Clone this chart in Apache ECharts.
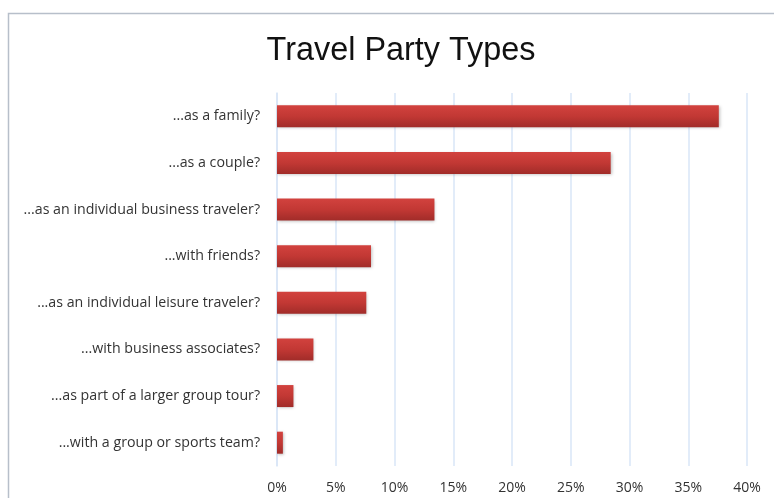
<!DOCTYPE html>
<html>
<head>
<meta charset="utf-8">
<script src="https://cdn.jsdelivr.net/npm/echarts@6/dist/echarts.min.js"></script>
<style>
  html, body { margin: 0; padding: 0; background: #fff; }
  #chart { width: 774px; height: 498px; }
</style>
</head>
<body>
<div id="chart"></div>
<script>
// categories top to bottom, values in percent
const categories = [
  '...as a family?',
  '...as a couple?',
  '...as an individual business traveler?',
  '...with friends?',
  '...as an individual leisure traveler?',
  '...with business associates?',
  '...as part of a larger group tour?',
  '...with a group or sports team?'
];
const shares = [37.6, 28.4, 13.4, 8.0, 7.6, 3.1, 1.4, 0.5];
const xTicks = [0, 5, 10, 15, 20, 25, 30, 35, 40];

const chart = echarts.init(document.getElementById('chart'));
const gridBlue = '#d8e6f7';

chart.setOption({
  animation: false,
  title: {
    text: 'Travel Party Types',
    left: 396,
    textAlign: 'center',
    top: 30,
    textStyle: { fontFamily: 'Liberation Sans', fontSize: 32.4, fontWeight: 'normal', color: '#111' }
  },
  graphic: [{
    type: 'polyline',
    shape: { points: [[8.5, 498], [8.5, 13.5], [774, 13.5]] },
    style: { stroke: '#b7bfca', lineWidth: 1.5, fill: null }
  }],
  grid: { left: 277, right: 27, top: 93, bottom: 32 },
  xAxis: {
    type: 'value',
    min: xTicks[0],
    max: xTicks[xTicks.length - 1],
    interval: 5,
    axisLine: { show: false },
    axisTick: { show: false },
    splitLine: { lineStyle: { color: gridBlue, width: 1.5 } },
    axisLabel: {
      formatter: v => v + '%',
      margin: 15,
      color: '#333',
      fontFamily: 'Open Sans',
      fontSize: 14
    }
  },
  yAxis: {
    type: 'category',
    inverse: true,
    data: categories,
    axisLine: { show: true, lineStyle: { color: gridBlue, width: 1.5 } },
    axisTick: { show: false },
    axisLabel: {
      margin: 17,
      color: '#333',
      fontFamily: 'Open Sans',
      fontSize: 14.2
    }
  },
  series: [{
    type: 'bar',
    data: shares,
    barWidth: 22,
    itemStyle: {
      color: new echarts.graphic.LinearGradient(0, 0, 0, 1, [
        { offset: 0, color: '#d2423e' },
        { offset: 0.5, color: '#c23834' },
        { offset: 1, color: '#a12c29' }
      ]),
      shadowColor: 'rgba(0,0,0,0.25)',
      shadowBlur: 3,
      shadowOffsetX: 1,
      shadowOffsetY: 1
    }
  }]
});
</script>
</body>
</html>
